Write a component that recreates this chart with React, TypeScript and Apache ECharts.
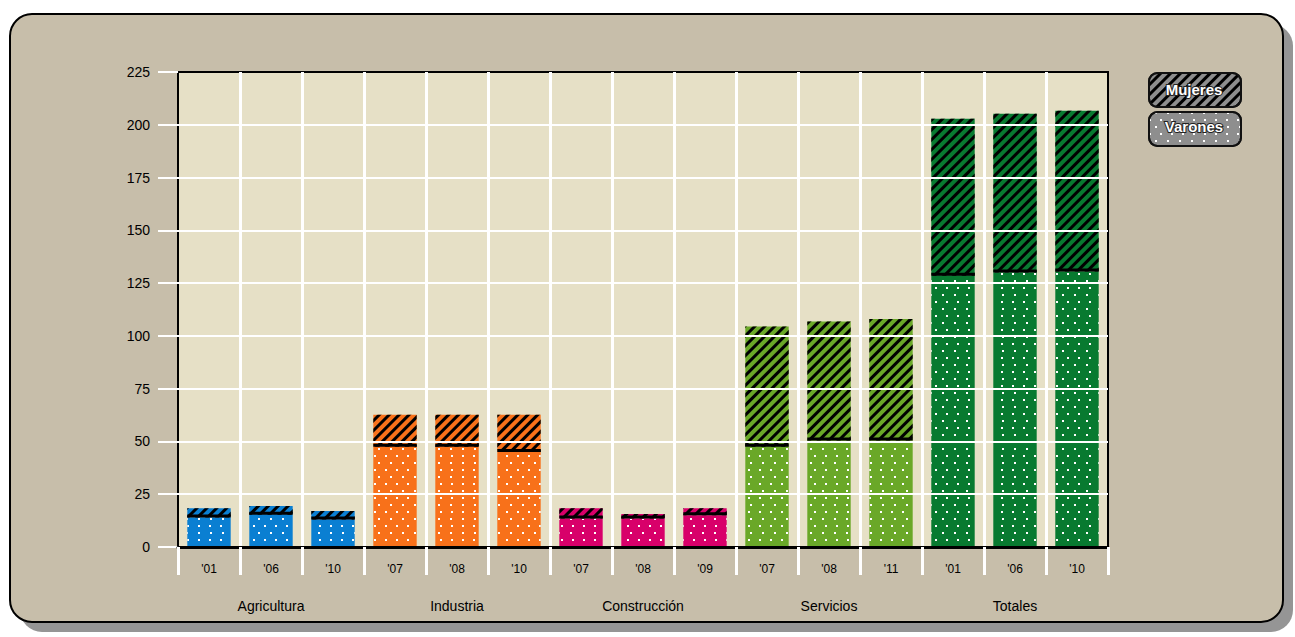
import React, { useEffect, useRef } from "react";
import * as echarts from "echarts";

const years = ["'01", "'06", "'10", "'07", "'08", "'10", "'07", "'08", "'09", "'07", "'08", "'11", "'01", "'06", "'10"];
const groups = ["Agricultura", "Industria", "Construcción", "Servicios", "Totales"];
const groupOf = [0, 0, 0, 1, 1, 1, 2, 2, 2, 3, 3, 3, 4, 4, 4];
const groupColors = ["#0A7FD2", "#F8711A", "#D8006A", "#6AA828", "#087A30"];
const varones = [14, 15.3, 13, 47.5, 47.5, 45, 13.5, 13.5, 15, 47.5, 50.5, 50.5, 128.5, 130, 130.5];
const mujeres = [4.3, 4.1, 4, 15.1, 15.1, 17.6, 4.8, 2.1, 3.3, 56.9, 56.3, 57.5, 74.3, 75.2, 76.1];
const yTicks = { min: 0, max: 225, interval: 25 };

const FONT = "'Liberation Sans', Arial, sans-serif";

export default function App() {
  const ref = useRef<HTMLDivElement>(null);
  useEffect(() => {
    if (!ref.current) return;
    const chart = echarts.init(ref.current, null, { renderer: "svg" });
    const dotDecal = {
      symbol: "rect",
      symbolSize: 1,
      color: "#ffffff",
      dashArrayX: [[2, 9], [0, 5.5, 2, 3.5]],
      dashArrayY: [2, 4.5],
      rotation: 0,
    };
    const stripeDecal = {
      symbol: "rect",
      symbolSize: 1,
      color: "#000000",
      dashArrayX: [1, 0],
      dashArrayY: [2.4, 3.6],
      rotation: -Math.PI / 4,
    };
    const option: any = {
      animation: false,
      graphic: [
        {
          type: "rect",
          z: -10,
          shape: { x: 20, y: 24, width: 1273, height: 608, r: 22 },
          style: { fill: "#959595" },
          silent: true,
        },
        {
          type: "rect",
          z: -9,
          shape: { x: 10, y: 14, width: 1273, height: 608, r: 22 },
          style: { fill: "#C7BEAA", stroke: "#000", lineWidth: 2 },
          silent: true,
        },
        {
          type: "text",
          z: 100,
          x: 1194,
          y: 89,
          style: {
            text: "Mujeres",
            fill: "#fff",
            stroke: "#222",
            lineWidth: 2,
            font: `bold 15px ${FONT}`,
            align: "center",
            verticalAlign: "middle",
          },
        },
        {
          type: "text",
          z: 100,
          x: 1194,
          y: 126,
          style: {
            text: "Varones",
            fill: "#fff",
            stroke: "#222",
            lineWidth: 2,
            font: `bold 15px ${FONT}`,
            align: "center",
            verticalAlign: "middle",
          },
        },
      ],
      legend: {
        data: ["Mujeres", "Varones"],
        orient: "vertical",
        left: 1148,
        top: 72,
        padding: 0,
        itemWidth: 92,
        itemHeight: 34,
        itemGap: 3,
        icon: "roundRect",
        selectedMode: false,
        formatter: () => "",
        itemStyle: { borderColor: "#111", borderWidth: 2 },
        textStyle: { fontSize: 1 },
      },
      grid: {
        left: 178,
        top: 72,
        right: 187,
        bottom: 90,
        show: true,
        backgroundColor: "#E6E0C6",
        borderColor: "#000",
        borderWidth: 2,
      },
      xAxis: [
        {
          type: "category",
          data: years,
          z: 6,
          axisLine: { lineStyle: { color: "#000", width: 3 } },
          axisTick: { show: true, interval: 0, length: 28, lineStyle: { color: "#fff", width: 3 } },
          axisLabel: { interval: 0, fontSize: 12, margin: 16, color: "#000", fontFamily: FONT },
          splitLine: {
            show: true,
            interval: 0,
            showMinLine: false,
            showMaxLine: false,
            lineStyle: { color: "#fff", width: 3 },
          },
        },
        {
          type: "category",
          data: groups,
          position: "bottom",
          offset: 44,
          axisLine: { show: false },
          axisTick: { show: false },
          axisLabel: { interval: 0, fontSize: 14, margin: 8, color: "#000", fontFamily: FONT },
          splitLine: { show: false },
        },
      ],
      yAxis: {
        type: "value",
        min: yTicks.min,
        max: yTicks.max,
        interval: yTicks.interval,
        z: 5,
        axisLine: { show: false },
        axisTick: { show: true, length: 20, lineStyle: { color: "#fff", width: 2 } },
        axisLabel: { margin: 28, fontSize: 14, color: "#000", fontFamily: FONT },
        splitLine: {
          show: true,
          showMinLine: false,
          showMaxLine: false,
          lineStyle: { color: "#fff", width: 2 },
        },
      },
      series: [
        {
          name: "Varones",
          type: "bar",
          stack: "total",
          xAxisIndex: 0,
          barWidth: "70%",
          itemStyle: { color: "#8E8E8E", decal: dotDecal },
          data: varones.map((v, i) => ({ value: v, itemStyle: { color: groupColors[groupOf[i]] } })),
        },
        {
          name: "Mujeres",
          type: "bar",
          stack: "total",
          xAxisIndex: 0,
          barWidth: "70%",
          itemStyle: { color: "#8E8E8E", decal: stripeDecal },
          data: mujeres.map((v, i) => ({ value: v, itemStyle: { color: groupColors[groupOf[i]] } })),
        },
        {
          type: "custom",
          xAxisIndex: 0,
          z: 3,
          silent: true,
          encode: { x: 0, y: 1 },
          data: varones.map((v, i) => [i, v]),
          renderItem: (params: any, api: any) => {
            const p = api.coord([api.value(0), api.value(1)]);
            const w = api.size([1, 0])[0] * 0.7;
            return {
              type: "rect",
              shape: { x: p[0] - w / 2, y: p[1] - 3, width: w, height: 3 },
              style: { fill: "#000" },
            };
          },
        },
      ],
    };
    chart.setOption(option);
    return () => chart.dispose();
  }, []);
  return (
    <div
      ref={ref}
      style={{ position: "fixed", left: 0, top: 0, width: 1295, height: 637, background: "#fff" }}
    />
  );
}
